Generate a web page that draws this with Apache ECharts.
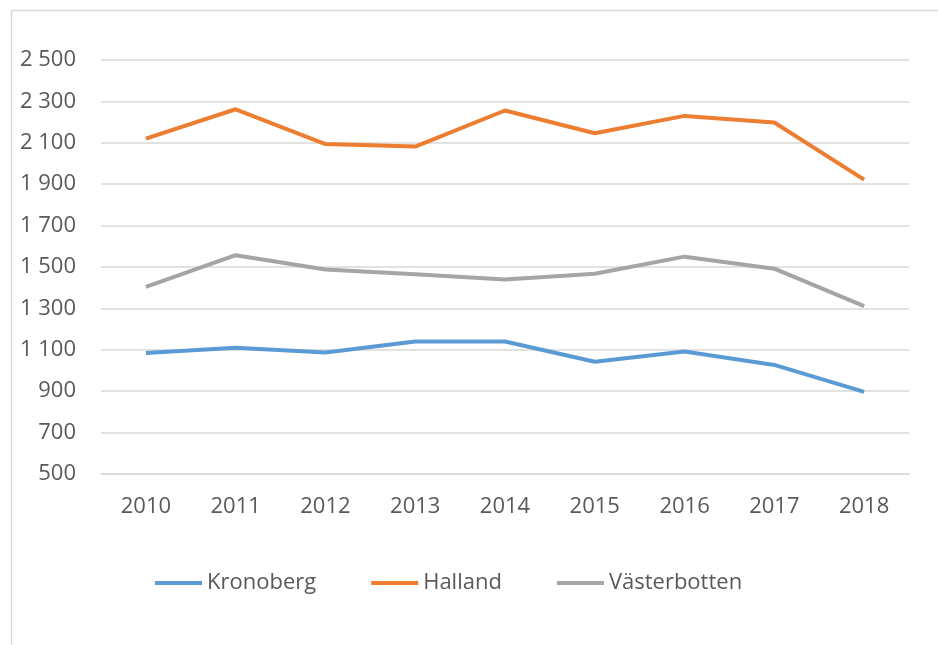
<!DOCTYPE html>
<html>
<head>
<meta charset="utf-8">
<script src="https://cdn.jsdelivr.net/npm/echarts@6/dist/echarts.min.js"></script>
<style>
  html, body { margin: 0; padding: 0; background: #fff; }
  #chart { width: 938px; height: 645px; }
</style>
</head>
<body>
<div id="chart"></div>
<script>
const years = ['2010', '2011', '2012', '2013', '2014', '2015', '2016', '2017', '2018']
const kronoberg = [1085, 1110, 1087, 1140, 1140, 1042, 1092, 1027, 897]
const halland = [2120, 2262, 2094, 2082, 2256, 2146, 2230, 2198, 1922]
const vasterbotten = [1404, 1557, 1488, 1465, 1440, 1467, 1550, 1492, 1311]

const textColor = '#595959'
const font = 'Open Sans'

// space as thousands separator, like "2 500"
function fmt(v) {
  return String(v).replace(/\B(?=(\d{3})+(?!\d))/g, ' ')
}

function line(name, data, color) {
  return {
    name: name,
    type: 'line',
    data: data,
    symbol: 'none',
    lineStyle: { width: 4, color: color },
    itemStyle: { color: color }
  }
}

const chart = echarts.init(document.getElementById('chart'))
chart.setOption({
  animation: false,
  textStyle: { fontFamily: font },
  graphic: [{
    type: 'rect',
    shape: { x: 11.5, y: 10.5, width: 940, height: 650 },
    style: { fill: 'none', stroke: '#d9d9d9', lineWidth: 1.5 },
    z: -1
  }],
  grid: { left: 101, right: 29, top: 60, bottom: 171 },
  legend: {
    left: 150,
    top: 567,
    icon: 'rect',
    itemWidth: 47,
    itemHeight: 4,
    itemGap: 55,
    textStyle: { color: textColor, fontSize: 22, fontFamily: font }
  },
  xAxis: {
    type: 'category',
    data: years,
    boundaryGap: true,
    axisLine: { lineStyle: { color: '#d9d9d9', width: 1.5 } },
    axisTick: { show: false },
    axisLabel: { color: textColor, fontSize: 22, fontFamily: font, margin: 22 }
  },
  yAxis: {
    type: 'value',
    min: 500,
    max: 2500,
    interval: 200,
    axisLine: { show: false },
    axisTick: { show: false },
    splitLine: { lineStyle: { color: '#d9d9d9', width: 1.5 } },
    axisLabel: {
      color: textColor, fontSize: 22, fontFamily: font, margin: 25,
      formatter: fmt
    }
  },
  series: [
    line('Kronoberg', kronoberg, '#5B9BD5'),
    line('Halland', halland, '#ED7D31'),
    line('Västerbotten', vasterbotten, '#A5A5A5')
  ]
})
</script>
</body>
</html>
